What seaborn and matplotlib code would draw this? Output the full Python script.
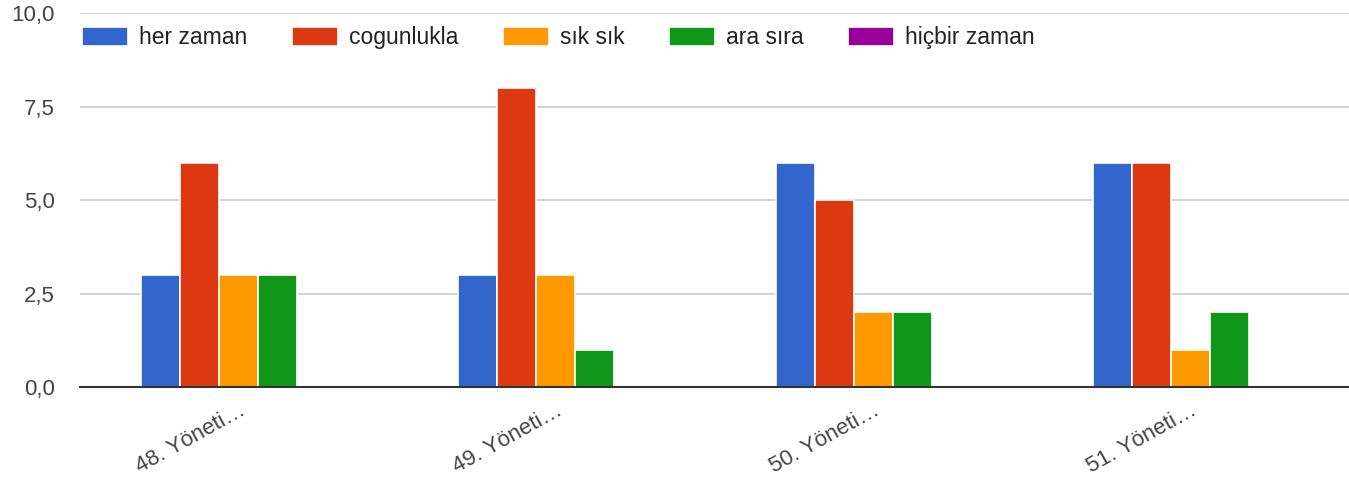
import matplotlib
matplotlib.use("Agg")
import matplotlib.pyplot as plt
import seaborn as sns
import pandas as pd
from matplotlib.ticker import FixedLocator, FuncFormatter

# Survey answers per question
questions = ["48. Yöneti…", "49. Yöneti…", "50. Yöneti…", "51. Yöneti…"]
answers = ["her zaman", "cogunlukla", "sık sık", "ara sıra", "hiçbir zaman"]
her_zaman = [3, 3, 6, 6]
cogunlukla = [6, 8, 5, 6]
sik_sik = [3, 3, 2, 1]
ara_sira = [3, 1, 2, 2]
hicbir_zaman = [0, 0, 0, 0]
colors = ["#3366cc", "#dc3912", "#ff9900", "#109618", "#990099"]

series = [her_zaman, cogunlukla, sik_sik, ara_sira, hicbir_zaman]
rows = []
for ans, vals in zip(answers, series):
    for q, v in zip(questions, vals):
        rows.append({"soru": q, "yanit": ans, "sayi": v})
df = pd.DataFrame(rows)

sns.set_theme(style="white")
plt.rcParams["font.family"] = ["Liberation Sans", "DejaVu Sans"]

fig = plt.figure(figsize=(13.49, 4.87), dpi=100)
ax = fig.add_axes([0.0593, 0.2053, 0.9407, 0.7673])

sns.barplot(data=df, x="soru", y="sayi", hue="yanit", order=questions,
            hue_order=answers, palette=colors, saturation=1, width=0.615,
            edgecolor="white", linewidth=1.2, errorbar=None, ax=ax)

ax.set_ylim(0, 10)
ax.set_xlim(-0.5, 3.5)
ax.yaxis.set_major_locator(FixedLocator([0, 2.5, 5, 7.5, 10]))
ax.yaxis.set_major_formatter(FuncFormatter(lambda v, p: f"{v:.1f}".replace(".", ",")))
ax.grid(axis="y", color="#cccccc", linewidth=1.2)
ax.set_axisbelow(True)
for s in ["top", "right", "left"]:
    ax.spines[s].set_visible(False)
ax.spines["bottom"].set_color("#333333")
ax.spines["bottom"].set_linewidth(1.5)
ax.spines["bottom"].set_zorder(5)
ax.tick_params(axis="both", length=0, labelsize=16, labelcolor="#444444")
ax.tick_params(axis="y", pad=18)
ax.tick_params(axis="x", pad=9)
ax.set_xlabel("")
ax.set_ylabel("")
for lab in ax.get_xticklabels():
    lab.set_rotation(29)
    lab.set_ha("right")
    lab.set_va("top")
    lab.set_rotation_mode("anchor")

ax.legend(loc="center left", bbox_to_anchor=(0.0016, 0.935), ncol=5, frameon=False,
          fontsize=16.5, handlelength=2.0, handleheight=0.92, handletextpad=0.48,
          columnspacing=1.95, borderaxespad=0, borderpad=0, labelcolor="#222222")

fig.savefig("out.png", dpi=100)
